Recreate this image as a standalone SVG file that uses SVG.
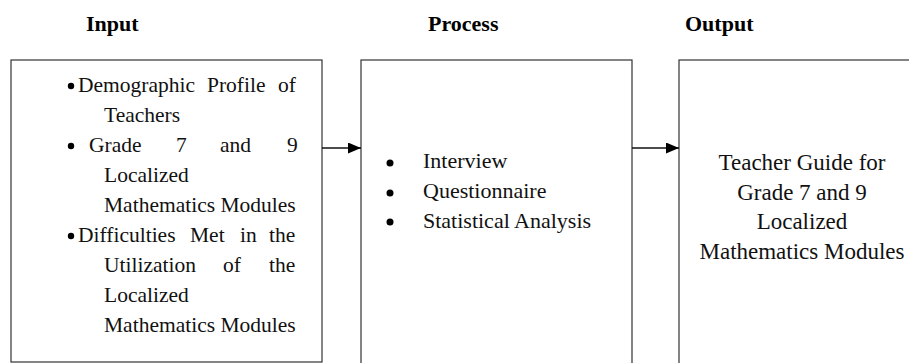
<svg xmlns="http://www.w3.org/2000/svg" width="909" height="363" viewBox="0 0 909 363">
<style>
  .box { fill: #ffffff; stroke: #333333; stroke-width: 1.2; }
  .title { font-family: "Liberation Serif", "Times New Roman", serif; font-weight: bold; font-size: 22px; fill: #000; }
  .t { font-family: "Liberation Serif", "Times New Roman", serif; font-size: 21.5px; fill: #111; }
  .tp { font-family: "Liberation Serif", "Times New Roman", serif; font-size: 22px; fill: #111; }
  .to { font-family: "Liberation Serif", "Times New Roman", serif; font-size: 23px; fill: #111; text-anchor: middle; }
  .conn { stroke: #111; stroke-width: 1.3; fill: none; }
  .dot { fill: #000; }
</style>
<defs>
  <marker id="arrow" markerWidth="13" markerHeight="11" refX="13" refY="5.5" orient="auto" markerUnits="userSpaceOnUse">
    <path d="M0,0 L13,5.5 L0,11 Z" fill="#000"/>
  </marker>
</defs>
<rect width="909" height="363" fill="#ffffff"/>

<g id="titles">
  <text class="title" x="86" y="31">Input</text>
  <text class="title" x="428" y="31">Process</text>
  <text class="title" x="685" y="31">Output</text>
</g>

<g id="input">
  <rect class="box" x="11" y="60" width="311" height="302"/>
  <circle class="dot" cx="71" cy="86" r="3.2"/>
  <text class="t" y="92"><tspan x="78">Demographic</tspan><tspan x="207">Profile</tspan><tspan x="278">of</tspan></text>
  <text class="t" x="104" y="122">Teachers</text>
  <circle class="dot" cx="71" cy="146" r="3.2"/>
  <text class="t" y="152"><tspan x="89">Grade</tspan><tspan x="176">7</tspan><tspan x="220">and</tspan><tspan x="287">9</tspan></text>
  <text class="t" x="104" y="182">Localized</text>
  <text class="t" x="104" y="212">Mathematics Modules</text>
  <circle class="dot" cx="71" cy="236" r="3.2"/>
  <text class="t" y="242"><tspan x="78">Difficulties</tspan><tspan x="190">Met</tspan><tspan x="240">in</tspan><tspan x="269">the</tspan></text>
  <text class="t" y="272"><tspan x="104">Utilization</tspan><tspan x="223">of</tspan><tspan x="269">the</tspan></text>
  <text class="t" x="104" y="302">Localized</text>
  <text class="t" x="104" y="332">Mathematics Modules</text>
</g>

<g id="process">
  <rect class="box" x="361" y="60" width="271" height="330"/>
  <circle class="dot" cx="390" cy="163" r="3.5"/>
  <text class="tp" x="423" y="168">Interview</text>
  <circle class="dot" cx="390" cy="193" r="3.5"/>
  <text class="tp" x="423" y="198">Questionnaire</text>
  <circle class="dot" cx="390" cy="222" r="3.5"/>
  <text class="tp" x="423" y="228">Statistical Analysis</text>
</g>

<g id="output">
  <rect class="box" x="679" y="60" width="250" height="330"/>
  <text class="to" x="802" y="170">Teacher Guide for</text>
  <text class="to" x="802" y="200">Grade 7 and 9</text>
  <text class="to" x="802" y="229">Localized</text>
  <text class="to" x="802" y="259">Mathematics Modules</text>
</g>

<g id="connectors">
  <line class="conn" x1="322" y1="148" x2="361" y2="148" marker-end="url(#arrow)"/>
  <line class="conn" x1="632" y1="148" x2="679" y2="148" marker-end="url(#arrow)"/>
</g>
</svg>
